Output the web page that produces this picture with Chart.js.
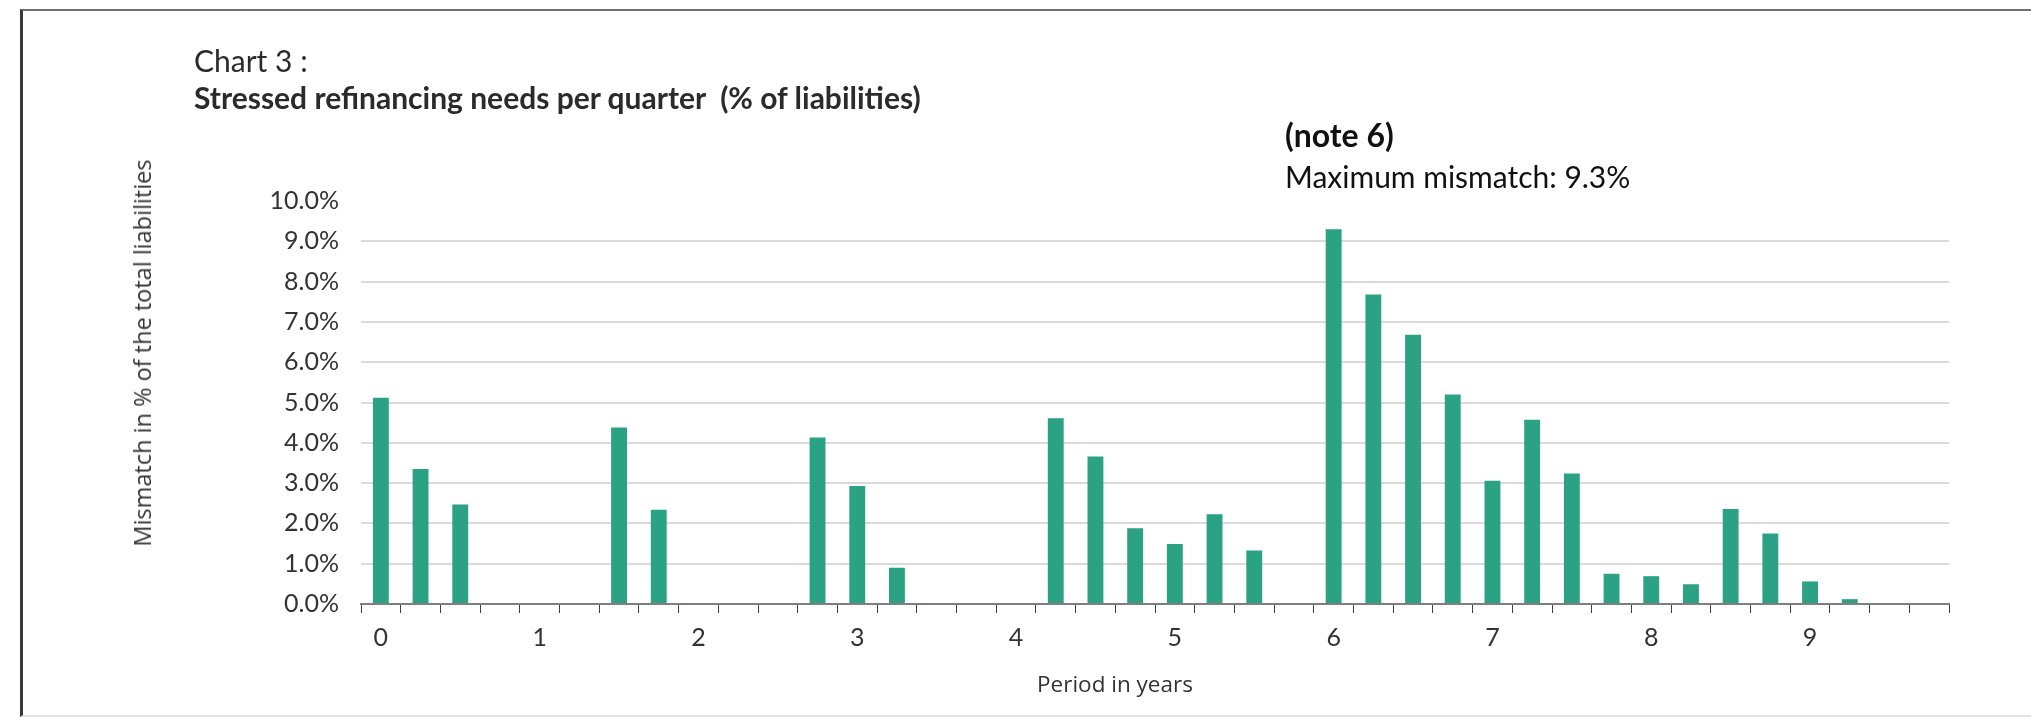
<!DOCTYPE html>
<html>
<head>
<meta charset="utf-8">
<script src="https://cdn.jsdelivr.net/npm/chart.js@4"></script>
<style>
  html, body { margin: 0; padding: 0; background: #fff; }
  #wrap { position: relative; width: 2031px; height: 717px; overflow: hidden; }
  #frame { position: absolute; left: 20px; top: 9px; width: 2100px; height: 704px;
           border-left: 3px solid #3a3a3a; border-top: 2px solid #707070; border-bottom: 2px solid #e2e2e2; }
  canvas { position: absolute; left: 0; top: 0; }
  .txt { position: absolute; color: #2b2b2b; white-space: nowrap; }
  #kicker { left: 194px; top: 42px; font: 400 30px/36px Lato, sans-serif; }
  #title { left: 194px; top: 79px; font: 700 30px/36px Lato, sans-serif; }
  #note { left: 1285px; top: 116px; font: 700 32px/38px Lato, sans-serif; color: #111; }
  #maxnote { left: 1285px; top: 158px; font: 400 30px/36px Lato, sans-serif; color: #111; }
  #ytitle { left: 142px; top: 353px; transform: translate(-50%, -50%) rotate(-90deg);
            font: 400 23.5px/28px "Open Sans", sans-serif; color: #333; }
  #xtitle { left: 1115px; top: 684px; transform: translate(-50%, -50%);
            font: 400 22.5px/28px "Open Sans", sans-serif; color: #333; }
</style>
</head>
<body>
<div id="wrap">
  <div id="frame"></div>
  <canvas id="c" width="2031" height="717"></canvas>
  <div class="txt" id="kicker">Chart 3 :</div>
  <div class="txt" id="title">Stressed refinancing needs per quarter&nbsp; (% of liabilities)</div>
  <div class="txt" id="note">(note 6)</div>
  <div class="txt" id="maxnote">Maximum mismatch: 9.3%</div>
  <div class="txt" id="ytitle">Mismatch in % of the total liabilities</div>
  <div class="txt" id="xtitle">Period in years</div>
</div>
<script>
// Quarterly buckets, in years from today
const periods = [
  0, 0.25, 0.5, 0.75, 1, 1.25, 1.5, 1.75, 2, 2.25,
  2.5, 2.75, 3, 3.25, 3.5, 3.75, 4, 4.25, 4.5, 4.75,
  5, 5.25, 5.5, 5.75, 6, 6.25, 6.5, 6.75, 7, 7.25,
  7.5, 7.75, 8, 8.25, 8.5, 8.75, 9, 9.25, 9.5, 9.75
];

// Stressed refinancing need per quarter, % of total liabilities
const mismatch = [
  5.12, 3.35, 2.47, 0, 0, 0, 4.38, 2.34, 0, 0,
  0, 4.13, 2.93, 0.90, 0, 0, 0, 4.61, 3.66, 1.88,
  1.49, 2.23, 1.33, 0, 9.3, 7.68, 6.68, 5.20, 3.06, 4.57,
  3.24, 0.75, 0.69, 0.49, 2.36, 1.75, 0.56, 0.12, 0, 0
];

// Year labels shown under the axis
const yearTicks = ['0', '1', '2', '3', '4', '5', '6', '7', '8', '9'];

// Percentage scale
const yMin = 0, yMax = 10, yStep = 1;

const tickFont = { family: 'Lato, sans-serif', size: 25 };

new Chart(document.getElementById('c'), {
  type: 'bar',
  data: {
    labels: periods,
    datasets: [{
      data: mismatch,
      backgroundColor: '#2aa283',
      borderWidth: 0,
      barPercentage: 0.4,
      categoryPercentage: 1.0
    }]
  },
  options: {
    responsive: false,
    animation: false,
    events: [],
    layout: { padding: { top: 201, right: 82, bottom: 0, left: 0 } },
    plugins: { legend: { display: false }, tooltip: { enabled: false } },
    scales: {
      x: {
        offset: true,
        afterFit: s => { s.height = 113; },
        border: { display: true, color: '#7f7f7f', width: 2 },
        grid: { display: true, offset: true, drawOnChartArea: false, drawTicks: true,
                tickLength: 9, color: '#3c3c3c', lineWidth: 1 },
        ticks: {
          autoSkip: false, maxRotation: 0, minRotation: 0, padding: 10,
          color: '#333', font: tickFont,
          callback: (v, i) => (i % 4 === 0 ? yearTicks[i / 4] : '')
        }
      },
      y: {
        min: yMin, max: yMax,
        afterFit: s => { s.width = 361; },
        border: { display: false },
        grid: {
          drawTicks: false, lineWidth: 2,
          color: c => (c.tick.value === yMax || c.tick.value === yMin) ? 'rgba(0,0,0,0)' : '#dadada'
        },
        ticks: {
          stepSize: yStep, padding: 22, color: '#333', font: tickFont,
          callback: v => v.toFixed(1) + '%'
        }
      }
    }
  }
});
</script>
</body>
</html>
